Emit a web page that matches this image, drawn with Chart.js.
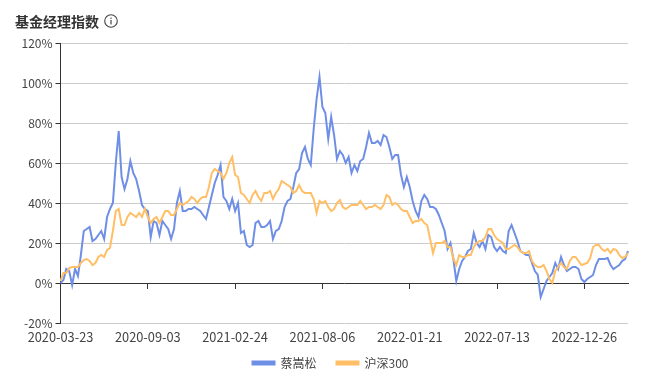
<!DOCTYPE html>
<html><head><meta charset="utf-8">
<style>
html,body{margin:0;padding:0;background:#fff;width:654px;height:390px;overflow:hidden}
#wrap{position:relative;width:654px;height:390px}
#title{position:absolute;left:15px;top:12px;font:700 14px/18px "Noto Sans CJK SC";color:#333}
#icon{position:absolute;left:104px;top:14px}
canvas{display:block}
</style>
<script src="https://cdn.jsdelivr.net/npm/chart.js@4"></script>
</head><body>
<div id="wrap">
<canvas id="c" width="654" height="390"></canvas>
<div id="title">基金经理指数</div>
<svg id="icon" width="14" height="14" viewBox="0 0 14 14"><circle cx="7" cy="7" r="6.3" fill="none" stroke="#444" stroke-width="1.1"/><rect x="6.4" y="6" width="1.2" height="4.4" fill="#444"/><rect x="6.4" y="3.6" width="1.2" height="1.3" fill="#444"/></svg>
</div>
<script>
const tickLabels = ["2020-03-23","2020-09-03","2021-02-24","2021-08-06","2022-01-21","2022-07-13","2022-12-26"];
const seriesNames = ["蔡嵩松","沪深300"];
const manager = [0,1.5,7,6,-1,7,3.5,14,26,27,28,21,22,24,26,22,33,37,40,60,76,53,47,52,61,55,52,46,39,37,
36,23,31,30,24,31,29,27,22,27,40,46,36,36,37,37,38,37,36,34,32,38,44,50,54,59,43,41,37,42,
36,40,25,26,19,18,19,30,31,28,28,29,31,22,26,27,31,38,41,42,48,55,57,65,68,62,59,77,92,103,
88,85,72,83,74,62,66,64,60,63,55,59,56,61,62,68,75,70,70,71,69,74,73,68,62,64,64,54,48,53,
48,41,36,33,41,44,42,38,38,37,34,30,26,17,20,12,1,7,11,13,16,17,25,20,18,21,17,24,23,18,
16,18,16,15,26,29,25,21,16,15,14,14,10,6,4,-7,-3,1,3,5,10,7,13,9,6,7,8,8,7,2,
0.5,2,3,4,9,12,12,12,12.5,9,7,8,9,11,12,16];
const index300 = [1,5,5,7.5,8,8,8,10,11.5,12,11,9,10,13,14,13,16.5,17.5,26,36,37,29,29,33,35,34,33,35,33,37,
33,30,32,33,30,33,36,36,34,34,37,40,39,40,41,43,42,40,42,43,43,48,55,57,56,55,52,55,60,63,
54,53,45,44,42,40,44,46,43,41,45,45,46,42,45,47,51,50,49,48,45,46,49,46,45,45,45,42,35,41,
40,41,38,36,37,40,41.5,38,37,38,39,39,39,41,39,37,38,38,39,38,37,39,44,43,39,40,39,37,36,36,
33,30,31,31,32,30,29,22,15,20,20,20,21,18,18,12,9,14,13,13,14,14,18,20,21,21,23,27,27,24,
22,21,20,17,17,18,19,18,16,15,15,16,11,9,8,8,9,6,2,0,6,8,10,8,7,11,13,13,11,9,
9.5,10,12.5,18,19,19,17,16,17,15,17,16.5,14,12.5,13,15];
const tickEvery = 30;
const categories = manager.map((_, i) => i % tickEvery === 0 ? tickLabels[i / tickEvery] : "");
const font = '"Noto Sans CJK SC"';
const showTick = function (v, i) { return i % tickEvery === 0 ? categories[i] : null; };
new Chart(document.getElementById('c'), {
  type: 'line',
  data: { labels: categories, datasets: [
    { label: seriesNames[0], data: manager, borderColor: '#6f8fe6', backgroundColor: '#6f8fe6', borderWidth: 2, pointRadius: 0, tension: 0, order: 2 },
    { label: seriesNames[1], data: index300, borderColor: '#ffbf66', backgroundColor: '#ffbf66', borderWidth: 2, pointRadius: 0, tension: 0, order: 1 }
  ]},
  options: {
    responsive: false, animation: false, devicePixelRatio: 1,
    layout: { padding: { top: 43, right: 0, left: 7, bottom: 11 } },
    plugins: {
      title: { display: false }, tooltip: { enabled: false },
      legend: { position: 'bottom', align: 'center',
        labels: { boxWidth: 22, boxHeight: 3, padding: 20, color: '#444', font: { family: font, size: 12 },
          sort: (a, b) => a.datasetIndex - b.datasetIndex } }
    },
    scales: {
      x: { type: 'category', axis: 'x', position: { y: 0 },
        afterFit(s) { s.paddingLeft = 0; s.paddingRight = 0; },
        grid: { drawOnChartArea: false, drawTicks: true, tickLength: 5, tickColor: '#333' },
        border: { display: true, color: '#333', width: 1 },
        ticks: { autoSkip: false, maxRotation: 0, minRotation: 0, padding: 41, color: '#444', font: { family: font, size: 12.8 }, callback: showTick } },
      spacer: { type: 'category', axis: 'x', position: 'bottom', labels: [''],
        grid: { display: false }, border: { display: false }, ticks: { display: false },
        afterFit(s) { s.height = 14; } },
      rightSpacer: { type: 'linear', axis: 'y', position: 'right',
        grid: { display: false }, border: { display: false }, ticks: { display: false },
        afterFit(s) { s.width = 26; } },
      y: { min: -20, max: 120,
        afterFit(s) { s.width = 53.5; },
        grid: { color: '#ccc', lineWidth: 1, tickLength: 5, tickColor: '#333' },
        border: { display: true, color: '#333', width: 1 },
        ticks: { stepSize: 20, padding: 3, color: '#444', font: { family: font, size: 12 }, callback: v => v + '%' } }
    }
  }
});
</script>
</body></html>
